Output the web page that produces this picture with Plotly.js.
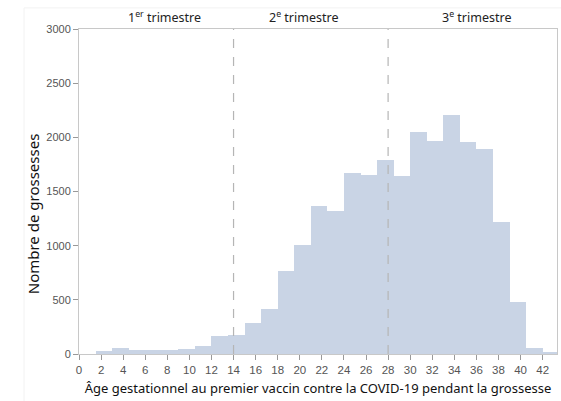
<!DOCTYPE html>
<html>
<head>
<meta charset="utf-8">
<script src="https://cdn.plot.ly/plotly-3.0.1.min.js"></script>
<style>html,body{margin:0;padding:0;background:#fff;}#chart{width:561px;height:401px;}</style>
</head>
<body>
<div id="chart"></div>
<script>
// Bin start (weeks) and counts, bin width 1.5 weeks
const binStarts = [1.5,3,4.5,6,7.5,9,10.5,12,13.5,15,16.5,18,19.5,21,22.5,24,25.5,27,28.5,30,31.5,33,34.5,36,37.5,39,40.5,42];
const counts = [28,58,35,35,35,45,75,162,180,290,415,762,1003,1364,1324,1673,1654,1787,1642,2052,1963,2204,1957,1889,1216,478,52,15];
const binWidth = 1.5;
const trimesterBounds = [14, 28];
const trimesterLabels = ["1<sup>er</sup> trimestre", "2<sup>e</sup> trimestre", "3<sup>e</sup> trimestre"];
const trimesterLabelX = [7.7, 20.3, 36.0];
const xTicks = [0,2,4,6,8,10,12,14,16,18,20,22,24,26,28,30,32,34,36,38,40,42];
const yTicks = [0,500,1000,1500,2000,2500,3000];
const yTitle = 'Nombre de grossesses';
const xTitle = 'Âge gestationnel au premier vaccin contre la COVID-19 pendant la grossesse';

const trace = {
  type: 'bar',
  x: binStarts.map(s => s + binWidth/2),
  y: counts,
  width: binWidth,
  marker: {color: '#c9d4e5', line: {width: 0}},
  hoverinfo: 'x+y'
};

const shapes = trimesterBounds.map(b => ({
  type: 'line', xref: 'x', yref: 'paper', x0: b, x1: b, y0: 0, y1: 1,
  line: {color: '#b5b5b5', width: 1.2, dash: 'dash'}
}));
shapes.unshift({type:'rect', xref:'paper', yref:'paper', x0:-0.115, x1:1.02, y0:-0.2, y1:1.065, fillcolor:'rgba(0,0,0,0)', line:{color:'#f2f2f2', width:1}, layer:'below'});

const annotations = trimesterLabels.map((t, i) => ({
  text: t, x: trimesterLabelX[i], xref: 'x', y: 1, yref: 'paper',
  yanchor: 'bottom', yshift: 1, showarrow: false,
  font: {family: 'Noto Sans, sans-serif', size: 12.5, color: '#222'}
}));
annotations.push({
  text: yTitle, xref: 'paper', yref: 'paper', x: -0.0962, y: 0.43,
  textangle: -90, showarrow: false, xanchor: 'center', yanchor: 'middle',
  font: {family: 'Noto Sans, sans-serif', size: 15, color: '#111'}
});

const layout = {
  width: 561, height: 401,
  margin: {l: 79, r: 4, t: 29, b: 47},
  paper_bgcolor: '#fff', plot_bgcolor: '#fff',
  bargap: 0,
  showlegend: false,
  xaxis: {
    range: [0, 43.3], tickvals: xTicks, ticktext: xTicks.map(String),
    ticks: 'outside', ticklen: 5, tickcolor: '#999',
    showline: true, linecolor: '#c8c8c8', mirror: true, showgrid: false, zeroline: false,
    tickfont: {family: 'Liberation Sans, Arial, sans-serif', size: 11.5, color: '#555'},
    title: {text: xTitle, standoff: 9,
      font: {family: 'Noto Sans, sans-serif', size: 13, color: '#111'}}
  },
  yaxis: {
    range: [0, 3000], tickvals: yTicks,
    ticks: 'outside', ticklen: 5, tickcolor: '#999',
    showline: true, linecolor: '#c8c8c8', mirror: true, showgrid: false, zeroline: false,
    tickfont: {family: 'Liberation Sans, Arial, sans-serif', size: 11, color: '#555'}
  },
  shapes: shapes,
  annotations: annotations
};

Plotly.newPlot('chart', [trace], layout, {staticPlot: true, displayModeBar: false});
</script>
</body>
</html>
